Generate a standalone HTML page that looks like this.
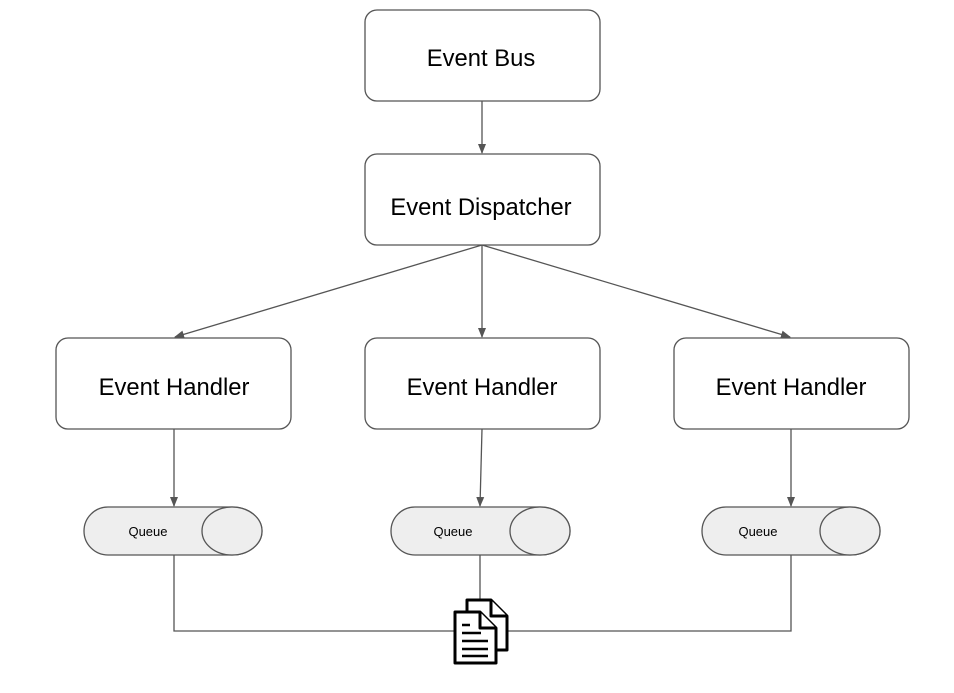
<!DOCTYPE html>
<html><head><style>body{margin:0;background:#fff}</style></head><body>
<svg width="954" height="688" xmlns="http://www.w3.org/2000/svg" font-family="Liberation Sans, sans-serif">
<defs><marker id="a" markerWidth="10" markerHeight="10" refX="9" refY="5" orient="auto" markerUnits="userSpaceOnUse"><path d="M0,1 L10,5 L0,9 Z" fill="#555"/></marker></defs>
<g stroke="#555" stroke-width="1.3" fill="none">
<line x1="482" y1="101" x2="482" y2="153" marker-end="url(#a)"/>
<line x1="482" y1="245" x2="175" y2="337" marker-end="url(#a)"/>
<line x1="482" y1="245" x2="482" y2="337" marker-end="url(#a)"/>
<line x1="482" y1="245" x2="790" y2="337" marker-end="url(#a)"/>
<line x1="174" y1="429" x2="174" y2="506" marker-end="url(#a)"/>
<line x1="482" y1="429" x2="480" y2="506" marker-end="url(#a)"/>
<line x1="791" y1="429" x2="791" y2="506" marker-end="url(#a)"/>
<polyline points="174,555 174,631 791,631 791,555"/>
<line x1="480" y1="555" x2="480" y2="600"/>
</g>
<g stroke="#555" stroke-width="1.3" fill="#fff">
<rect x="365" y="10" width="235" height="91" rx="12"/>
<rect x="365" y="154" width="235" height="91" rx="12"/>
<rect x="56" y="338" width="235" height="91" rx="12"/>
<rect x="365" y="338" width="235" height="91" rx="12"/>
<rect x="674" y="338" width="235" height="91" rx="12"/>
</g>
<g font-size="23.8" fill="#000" text-anchor="middle">
<text x="481" y="66">Event Bus</text>
<text x="481" y="215">Event Dispatcher</text>
<text x="174" y="395">Event Handler</text>
<text x="482" y="395">Event Handler</text>
<text x="791" y="395">Event Handler</text>
</g>
<g stroke="#555" stroke-width="1.3" fill="#eee">
<path d="M108,507 H232 A30,24 0 0 1 232,555 H108 A24,24 0 0 1 108,507 Z"/>
<ellipse cx="232" cy="531" rx="30" ry="24"/>
<path d="M415,507 H540 A30,24 0 0 1 540,555 H415 A24,24 0 0 1 415,507 Z"/>
<ellipse cx="540" cy="531" rx="30" ry="24"/>
<path d="M726,507 H850 A30,24 0 0 1 850,555 H726 A24,24 0 0 1 726,507 Z"/>
<ellipse cx="850" cy="531" rx="30" ry="24"/>
</g>
<g font-size="13" fill="#000" text-anchor="middle">
<text x="148" y="536">Queue</text>
<text x="453" y="536">Queue</text>
<text x="758" y="536">Queue</text>
</g>
<g stroke="#000" stroke-width="3" fill="#fff" stroke-linejoin="round">
<path d="M467,600 H491 L507,616 V650 H467 Z"/>
<path d="M491,600 V616 H507"/>
<path d="M455,612 H480 L496,628 V663 H455 Z"/>
<path d="M480,612 V628 H496"/>
<path d="M462,625 H470 M462,633 H481 M462,641 H488 M462,649 H488 M462,656 H488" stroke-width="2.5"/>
</g>
</svg>
</body></html>
